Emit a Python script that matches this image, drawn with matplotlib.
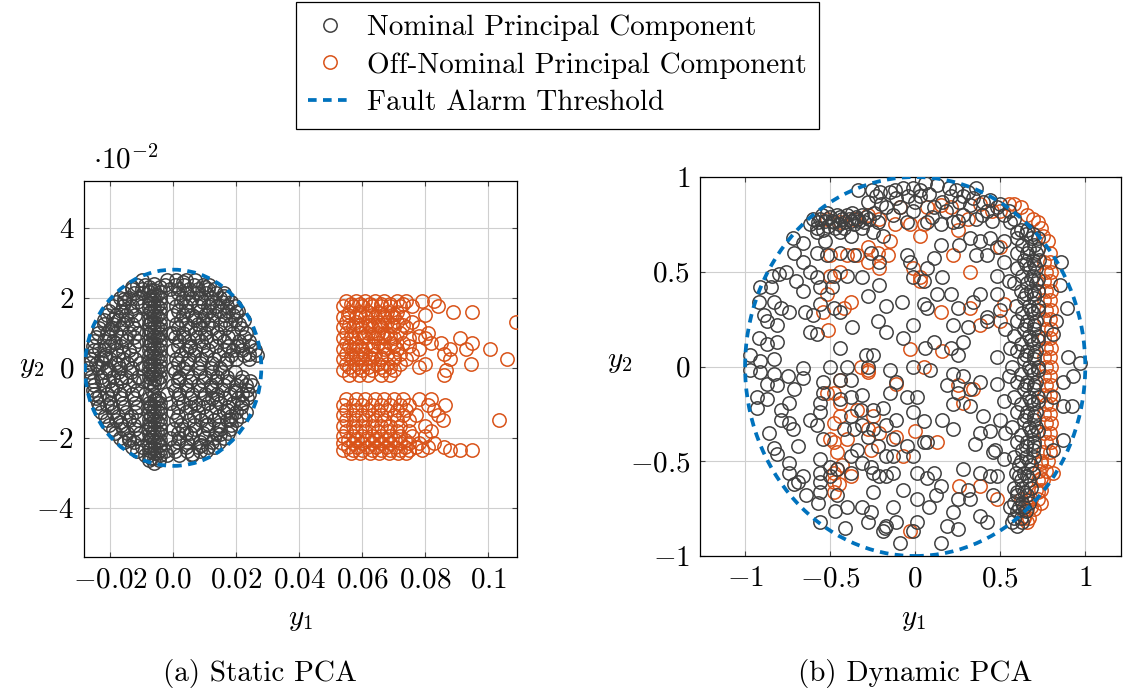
import matplotlib
matplotlib.use("Agg")
import matplotlib.pyplot as plt
from matplotlib.patches import Ellipse
from matplotlib.lines import Line2D

plt.rcParams['font.family'] = ['cmr10', 'DejaVu Serif']
plt.rcParams['mathtext.fontset'] = 'cm'
plt.rcParams['axes.formatter.use_mathtext'] = True
plt.rcParams['axes.unicode_minus'] = False

# ---------------- labels / ticks ----------------
legend_labels = ["Nominal Principal Component", "Off-Nominal Principal Component", "Fault Alarm Threshold"]
captions = ["(a) Static PCA", "(b) Dynamic PCA"]
static_xticks = [-0.02, 0.0, 0.02, 0.04, 0.06, 0.08, 0.1]
static_xticklabels = ["$-0.02$", "$0.0$", "$0.02$", "$0.04$", "$0.06$", "$0.08$", "$0.1$"]
static_yticks = [-4, -2, 0, 2, 4]
static_yticklabels = ["$-4$", "$-2$", "$0$", "$2$", "$4$"]
dyn_ticks = [-1, -0.5, 0, 0.5, 1]
dyn_ticklabels = ["$-1$", "$-0.5$", "$0$", "$0.5$", "$1$"]

# thresholds (static y in units of 1e-2)
static_thr_rx = 0.028
static_thr_ry = 2.8
dyn_thr_r = 1.0

# ---------------- Static PCA, nominal (y in 1e-2) ----------------
static_nom_column = [
    (-0.0078, 2.30), (-0.0078, 2.15), (-0.0078, 2.00), (-0.0078, 1.85), (-0.0078, 1.70), (-0.0078, 1.55),
    (-0.0078, 1.40), (-0.0078, 1.25), (-0.0078, 1.10), (-0.0078, 0.95), (-0.0078, 0.80), (-0.0078, 0.65),
    (-0.0078, 0.50), (-0.0078, 0.35), (-0.0078, 0.20), (-0.0078, 0.05), (-0.0078, -0.10), (-0.0078, -0.25),
    (-0.0078, -0.40), (-0.0076, -0.85), (-0.0078, -1.00), (-0.0078, -1.15), (-0.0078, -1.30), (-0.0078, -1.45),
    (-0.0078, -1.60), (-0.0078, -1.75), (-0.0078, -1.90), (-0.0078, -2.05), (-0.0078, -2.20), (-0.0078, -2.35),
    (-0.0078, -2.50), (-0.0076, -2.62),
    (-0.0060, 2.38), (-0.0060, 2.22), (-0.0060, 2.07), (-0.0060, 1.92), (-0.0060, 1.77), (-0.0060, 1.62),
    (-0.0060, 1.47), (-0.0060, 1.32), (-0.0060, 1.17), (-0.0060, 1.02), (-0.0060, 0.87), (-0.0060, 0.72),
    (-0.0060, 0.57), (-0.0060, 0.42), (-0.0060, 0.27), (-0.0060, 0.12), (-0.0060, -0.03), (-0.0060, -0.18),
    (-0.0060, -0.33), (-0.0060, -0.48), (-0.0060, -0.78), (-0.0060, -0.93), (-0.0060, -1.08), (-0.0060, -1.23),
    (-0.0060, -1.38), (-0.0060, -1.53), (-0.0060, -1.68), (-0.0060, -1.83), (-0.0060, -1.98), (-0.0060, -2.13),
    (-0.0060, -2.28), (-0.0060, -2.43), (-0.0060, -2.58), (-0.0060, -2.72),
    (-0.0042, 2.30), (-0.0042, 2.15), (-0.0042, 2.00), (-0.0042, 1.85), (-0.0042, 1.70), (-0.0042, 1.55),
    (-0.0042, 1.40), (-0.0042, 1.25), (-0.0042, 1.10), (-0.0042, 0.95), (-0.0042, 0.80), (-0.0042, 0.65),
    (-0.0042, 0.50), (-0.0042, 0.35), (-0.0042, 0.20), (-0.0042, 0.05), (-0.0042, -0.10), (-0.0042, -0.25),
    (-0.0044, -0.40), (-0.0044, -0.85), (-0.0042, -1.00), (-0.0042, -1.15), (-0.0042, -1.30), (-0.0042, -1.45),
    (-0.0042, -1.60), (-0.0042, -1.75), (-0.0042, -1.90), (-0.0042, -2.05), (-0.0042, -2.20), (-0.0042, -2.35),
    (-0.0042, -2.50), (-0.0044, -2.64),
    (-0.0069, 2.22), (-0.0069, 1.92), (-0.0069, 1.62), (-0.0069, 1.32), (-0.0069, 1.02), (-0.0069, 0.72),
    (-0.0069, 0.42), (-0.0069, 0.12), (-0.0069, -0.18), (-0.0069, -0.45), (-0.0067, -0.65), (-0.0069, -1.08),
    (-0.0069, -1.38), (-0.0069, -1.68), (-0.0069, -1.98), (-0.0069, -2.28), (-0.0069, -2.58),
    (-0.0051, 2.07), (-0.0051, 1.77), (-0.0051, 1.47), (-0.0051, 1.17), (-0.0051, 0.87), (-0.0051, 0.57),
    (-0.0051, 0.27), (-0.0051, -0.03), (-0.0051, -0.33), (-0.0053, -0.93), (-0.0051, -1.23), (-0.0051, -1.53),
    (-0.0051, -1.83), (-0.0051, -2.13), (-0.0051, -2.43),
]

static_nom_rows_y = [2.5, 2.375, 2.25, 2.125, 2.0, 1.875, 1.75, 1.625, 1.5, 1.375, 1.25, 1.125, 1.0, 0.875,
                     0.75, 0.625, 0.5, 0.375, 0.25, 0.125, 0.0, -0.125, -0.25, -0.375, -0.5, -0.625, -0.75,
                     -0.875, -1.0, -1.125, -1.25, -1.375, -1.5, -1.625, -1.75, -1.875, -2.0, -2.125, -2.25,
                     -2.375, -2.5]
static_nom_rows_x = [
    [-0.010, -0.002, 0.001, 0.004, 0.007],
    [-0.0115, -0.009, -0.0025, 0.0005, 0.0035, 0.0065, 0.0095, 0.0115],
    [-0.013, -0.010, -0.001, 0.002, 0.005, 0.008, 0.011, 0.013],
    [-0.0155, -0.0125, -0.0095, 0.0015, 0.0045, 0.0075, 0.0105, 0.0135, 0.016],
    [-0.017, -0.014, -0.011, 0.0, 0.003, 0.006, 0.009, 0.012, 0.015, 0.017],
    [-0.018, -0.0155, -0.0115, 0.0025, 0.0055, 0.0095, 0.0125, 0.0155, 0.0185],
    [-0.019, -0.016, -0.013, -0.010, 0.001, 0.004, 0.008, 0.011, 0.014, 0.017, 0.0195],
    [-0.0205, -0.0165, -0.0135, 0.0015, 0.0045, 0.0085, 0.0115, 0.0145, 0.0175, 0.0205],
    [-0.021, -0.018, -0.015, -0.012, 0.0, 0.003, 0.006, 0.010, 0.013, 0.016, 0.019],
    [-0.022, -0.0175, -0.0145, -0.011, 0.0025, 0.0065, 0.0095, 0.0125, 0.0165, 0.0195, 0.0225],
    [-0.022, -0.019, -0.016, -0.013, 0.001, 0.004, 0.008, 0.011, 0.015, 0.018, 0.021],
    [-0.0235, -0.0195, -0.0165, -0.0125, 0.0015, 0.0055, 0.0085, 0.0125, 0.0165, 0.0215],
    [-0.024, -0.021, -0.018, -0.014, -0.011, 0.0, 0.003, 0.007, 0.010, 0.014, 0.019, 0.023],
    [-0.0245, -0.0205, -0.0165, -0.0125, 0.0005, 0.0035, 0.0075, 0.0105, 0.0145, 0.0175, 0.0225],
    [-0.025, -0.022, -0.019, -0.015, -0.011, 0.002, 0.005, 0.009, 0.012, 0.016, 0.021, 0.024],
    [-0.0255, -0.0205, -0.0165, -0.0125, 0.0015, 0.0055, 0.0095, 0.0135, 0.0175, 0.0205, 0.0245],
    [-0.025, -0.022, -0.018, -0.014, 0.0, 0.004, 0.007, 0.011, 0.016, 0.019, 0.022, 0.026],
    [-0.0255, -0.0215, -0.0175, -0.0135, 0.0025, 0.0065, 0.0105, 0.0145, 0.0185, 0.0225, 0.0265],
    [-0.026, -0.023, -0.020, -0.016, -0.012, 0.001, 0.005, 0.009, 0.013, 0.017, 0.020, 0.024],
    [-0.0265, -0.0225, -0.0185, -0.0145, -0.0105, 0.0015, 0.0045, 0.0085, 0.0125, 0.0165],
    [-0.0275, -0.024, -0.021, -0.017, -0.013, -0.010, 0.0, 0.003, 0.008, 0.012, 0.015],
    [-0.0265, -0.0215, -0.0175, -0.0135, 0.0005, 0.0045, 0.0085, 0.0125, 0.0155, 0.0195],
    [-0.026, -0.023, -0.019, -0.015, -0.011, 0.002, 0.006, 0.010, 0.014, 0.017, 0.022],
    [-0.0255, -0.0205, -0.0165, -0.0125, -0.0095, 0.0015, 0.0055, 0.0095, 0.0135, 0.0175, 0.0215, 0.0245],
    [-0.025, -0.022, -0.018, -0.014, 0.0, 0.004, 0.008, 0.012, 0.016, 0.020, 0.023, 0.025],
    [-0.0255, -0.0195, -0.0155, -0.0115, 0.0005, 0.0045, 0.0085, 0.0125, 0.0155, 0.0195, 0.0235],
    [-0.025, -0.021, -0.017, -0.013, -0.009, -0.002, 0.002, 0.006, 0.010, 0.014, 0.018, 0.022, 0.024],
    [-0.0245, -0.0205, -0.0165, -0.0125, 0.0015, 0.0055, 0.0095, 0.0125, 0.0165, 0.0205, 0.0235],
    [-0.024, -0.020, -0.016, -0.012, -0.001, 0.003, 0.007, 0.011, 0.015, 0.019, 0.022],
    [-0.0235, -0.0195, -0.0155, -0.0115, 0.0015, 0.0055, 0.0095, 0.0135, 0.0175, 0.0215],
    [-0.023, -0.019, -0.015, -0.012, 0.0, 0.004, 0.008, 0.012, 0.016, 0.020, 0.023],
    [-0.0215, -0.0175, -0.0135, 0.0015, 0.0065, 0.0105, 0.0145, 0.0185, 0.0215],
    [-0.021, -0.018, -0.014, -0.011, 0.001, 0.005, 0.009, 0.013, 0.017, 0.020],
    [-0.0205, -0.0165, -0.0125, 0.0025, 0.0065, 0.0105, 0.0145, 0.0185],
    [-0.019, -0.016, -0.012, 0.0, 0.003, 0.007, 0.011, 0.015, 0.018],
    [-0.0185, -0.0145, -0.0105, 0.0015, 0.0055, 0.0095, 0.0135, 0.0175],
    [-0.017, -0.014, -0.011, -0.001, 0.002, 0.006, 0.010, 0.013, 0.016],
    [-0.0155, -0.0125, 0.0015, 0.0045, 0.0085, 0.0125, 0.0145],
    [-0.013, -0.010, 0.0, 0.004, 0.008, 0.011, 0.013],
    [-0.0115, -0.0025, 0.0005, 0.0045, 0.0085, 0.0105],
    [-0.009, -0.002, 0.002, 0.006],
]
# extra scattered nominal points inside the static disc (denser left and lower-right lobes)
static_nom_extra = [
    (-0.0235, 0.55), (-0.0215, 0.30), (-0.0245, 0.10), (-0.0205, -0.05), (-0.0225, -0.35), (-0.0195, -0.60),
    (-0.0235, -0.80), (-0.0185, 0.70), (-0.0175, 0.10), (-0.0165, -0.30), (-0.0210, -1.05), (-0.0190, 1.40),
    (-0.0155, 1.95), (-0.0130, 2.30), (-0.0170, -1.55), (-0.0140, -2.05), (-0.0200, 1.10), (-0.0160, 0.45),
    (0.0140, -0.90), (0.0170, -1.20), (0.0200, -0.70), (0.0110, -1.60), (0.0150, -1.90), (0.0180, -1.45),
    (0.0090, -2.20), (0.0060, -2.45), (0.0220, -1.00), (0.0120, -0.55), (0.0240, 0.40), (0.0220, 0.65),
    (0.0200, 1.60), (0.0160, 2.05), (0.0100, 2.30), (0.0030, 2.45), (0.0070, 1.45), (0.0050, 0.60),
    (0.0020, -0.30), (0.0080, -1.05), (0.0040, -1.85), (-0.0010, 1.00),
]

# ---------------- Static PCA, off-nominal (y in 1e-2) ----------------
static_off_rows_y = [1.9, 1.82, 1.75, 1.6, 1.52, 1.45, 1.3, 1.22, 1.15, 1.0, 0.92, 0.85, 0.7, 0.62, 0.55, 0.4,
                     0.32, 0.25, 0.1, 0.02, -0.05, -0.2,
                     -0.9, -1.05, -1.2, -1.35, -1.5, -1.65, -1.8, -1.95, -2.05, -2.15, -2.25, -2.35, -2.42]
static_off_rows_x = [
    [0.055, 0.058, 0.061, 0.064, 0.067, 0.071, 0.074, 0.079, 0.083],
    [0.0565, 0.0595, 0.0625, 0.066, 0.069, 0.073],
    [0.054, 0.057, 0.060, 0.063, 0.066, 0.069, 0.072, 0.076, 0.084],
    [0.056, 0.059, 0.062, 0.065, 0.068, 0.071, 0.089, 0.095],
    [0.0555, 0.0595, 0.063, 0.0665, 0.0695, 0.080],
    [0.054, 0.058, 0.061, 0.064, 0.067, 0.070, 0.073],
    [0.055, 0.058, 0.062, 0.065, 0.068, 0.071, 0.076, 0.109],
    [0.056, 0.0595, 0.0625, 0.0655, 0.0695, 0.073],
    [0.054, 0.057, 0.060, 0.063, 0.066, 0.070, 0.074, 0.078],
    [0.055, 0.059, 0.062, 0.065, 0.068, 0.072, 0.081],
    [0.0565, 0.0605, 0.0635, 0.0665, 0.069, 0.078],
    [0.054, 0.057, 0.060, 0.064, 0.067, 0.070, 0.075, 0.080, 0.091],
    [0.055, 0.058, 0.062, 0.065, 0.069, 0.073, 0.082, 0.085, 0.095],
    [0.056, 0.059, 0.0635, 0.0665, 0.070, 0.075],
    [0.054, 0.057, 0.060, 0.063, 0.067, 0.071, 0.078, 0.088, 0.093, 0.1005],
    [0.055, 0.058, 0.061, 0.064, 0.068, 0.072, 0.076, 0.086],
    [0.0565, 0.0595, 0.0625, 0.066, 0.070],
    [0.054, 0.057, 0.060, 0.063, 0.066, 0.070, 0.074, 0.088, 0.106],
    [0.055, 0.058, 0.061, 0.065, 0.068, 0.072, 0.080, 0.0946],
    [0.056, 0.059, 0.062, 0.066, 0.069, 0.078],
    [0.054, 0.057, 0.060, 0.063, 0.067, 0.070, 0.0866],
    [0.056, 0.059, 0.062, 0.066, 0.069, 0.086],
    [0.055, 0.058, 0.061, 0.064, 0.067, 0.070, 0.073, 0.078, 0.082],
    [0.054, 0.057, 0.060, 0.063, 0.066, 0.069, 0.072, 0.075, 0.081, 0.0864],
    [0.055, 0.058, 0.062, 0.065, 0.068, 0.071, 0.074, 0.083],
    [0.054, 0.057, 0.060, 0.063, 0.066, 0.070, 0.073, 0.077, 0.084],
    [0.055, 0.058, 0.061, 0.064, 0.067, 0.071, 0.075, 0.0857, 0.1035],
    [0.054, 0.057, 0.060, 0.063, 0.066, 0.069, 0.072, 0.080],
    [0.055, 0.058, 0.061, 0.065, 0.068, 0.071, 0.075, 0.082],
    [0.054, 0.057, 0.060, 0.063, 0.066, 0.069, 0.072, 0.076, 0.080],
    [0.0555, 0.0585, 0.0615, 0.0645, 0.0675, 0.0705, 0.0735],
    [0.054, 0.057, 0.060, 0.063, 0.066, 0.069, 0.072, 0.075, 0.078, 0.083],
    [0.0555, 0.0585, 0.0615, 0.0645, 0.0675, 0.0705, 0.0735, 0.077, 0.081, 0.086],
    [0.054, 0.057, 0.060, 0.063, 0.066, 0.069, 0.072, 0.075, 0.079, 0.088, 0.091, 0.0949],
    [0.0565, 0.0595, 0.0625, 0.0655, 0.0685, 0.0715, 0.074],
]

# ---------------- Dynamic PCA, nominal ----------------
dyn_nom_points = [
    # dense top-left cluster
    (-0.60, 0.78), (-0.57, 0.76), (-0.55, 0.80), (-0.53, 0.77), (-0.51, 0.74), (-0.50, 0.79), (-0.48, 0.76),
    (-0.46, 0.80), (-0.45, 0.75), (-0.43, 0.78), (-0.41, 0.76), (-0.40, 0.80), (-0.38, 0.77), (-0.36, 0.75),
    (-0.35, 0.79), (-0.33, 0.77), (-0.31, 0.80), (-0.30, 0.76), (-0.58, 0.73), (-0.54, 0.72), (-0.62, 0.75),
    (-0.47, 0.73), (-0.42, 0.73), (-0.37, 0.81), (-0.52, 0.81), (-0.27, 0.78), (-0.24, 0.81), (-0.22, 0.76),
    (-0.56, 0.78), (-0.49, 0.77), (-0.44, 0.79), (-0.39, 0.78), (-0.34, 0.78), (-0.29, 0.79),
    # top arc
    (-0.335, 0.93), (-0.255, 0.93), (-0.206, 0.92), (-0.17, 0.84), (-0.13, 0.80), (-0.09, 0.84), (-0.11, 0.89),
    (-0.07, 0.94), (-0.01, 0.94), (0.03, 0.90), (-0.05, 0.76), (-0.01, 0.82), (0.03, 0.93), (0.11, 0.84),
    (0.13, 0.96), (0.21, 0.90), (0.26, 0.87), (0.31, 0.92), (0.36, 0.94), (0.32, 0.85), (0.40, 0.87),
    (0.42, 0.82), (0.48, 0.84), (0.52, 0.80), (0.56, 0.76), (0.60, 0.71), (0.07, 0.76), (0.15, 0.75),
    (0.22, 0.76), (0.36, 0.78), (0.18, 0.82), (0.28, 0.80), (0.45, 0.77), (0.06, 0.97), (-0.15, 0.92),
    (0.24, 0.93), (0.00, 0.87),
    (-0.20, 0.86), (-0.12, 0.93), (-0.04, 0.90), (0.08, 0.91), (0.16, 0.87), (0.20, 0.94), (0.28, 0.90),
    (0.34, 0.89), (0.44, 0.88), (0.50, 0.86), (0.39, 0.80), (-0.28, 0.87), (-0.23, 0.90), (0.10, 0.79),
    (0.25, 0.77), (0.55, 0.82), (0.58, 0.78),
    (-0.58, 0.71), (-0.53, 0.66), (-0.44, 0.71), (-0.38, 0.69), (-0.31, 0.73), (-0.25, 0.71), (-0.19, 0.69),
    (-0.72, 0.68), (-0.66, 0.65), (-0.71, 0.60), (-0.66, 0.55), (-0.76, 0.50),
    # left outer
    (-0.80, 0.49), (-0.84, 0.48), (-0.91, 0.42), (-0.85, 0.42), (-0.92, 0.34), (-0.83, 0.34), (-0.79, 0.31),
    (-0.74, 0.29), (-0.65, 0.29), (-0.89, 0.27), (-0.87, 0.24), (-0.81, 0.22), (-0.92, 0.15), (-0.87, 0.12),
    (-0.81, 0.13), (-0.97, 0.06), (-0.91, 0.03), (-0.83, 0.04), (-0.97, -0.02), (-0.91, -0.03), (-0.83, -0.04),
    (-0.87, -0.09), (-0.81, -0.10), (-0.93, -0.16), (-0.87, -0.17), (-0.93, -0.22), (-0.79, -0.23),
    (-0.74, -0.19), (-0.71, -0.12), (-0.75, -0.05), (-0.66, -0.06), (-0.66, -0.01), (-0.79, -0.28),
    (-0.74, -0.30), (-0.72, -0.33), (-0.62, -0.28), (-0.56, -0.19), (-0.56, -0.24), (-0.58, -0.31),
    (-0.54, -0.38), (-0.83, -0.43), (-0.81, -0.46), (-0.69, -0.42), (-0.74, -0.51), (-0.74, -0.56),
    (-0.66, -0.58), (-0.71, -0.62), (-0.56, -0.49), (-0.56, -0.56), (-0.56, -0.61), (-0.56, -0.66),
    (-0.50, -0.53), (-0.50, -0.58), (-0.46, -0.54), (-0.47, -0.76), (-0.56, -0.82), (-0.40, -0.74),
    (-0.41, -0.85), (-0.31, -0.74), (-0.26, -0.77), (-0.28, -0.82), (-0.25, -0.66), (-0.13, -0.74),
    (-0.07, -0.65), (-0.17, -0.84), (-0.19, -0.87), (-0.11, -0.82), (-0.09, -0.93), (0.01, -0.82),
    (-0.01, -0.87), (0.01, -0.70), (0.01, -0.56), (-0.25, -0.56), (-0.21, -0.58), (-0.17, -0.58),
    (-0.13, -0.56), (-0.38, -0.56), (-0.31, -0.51), (-0.26, -0.53), (-0.13, -0.47), (-0.17, -0.47),
    (-0.22, -0.42), (-0.38, -0.47), (-0.34, -0.44), (-0.28, -0.37), (-0.25, -0.33), (-0.31, -0.31),
    (-0.36, -0.33), (-0.42, -0.33), (-0.17, -0.31), (-0.13, -0.38), (-0.05, -0.42), (-0.01, -0.47),
    (0.05, -0.40), (-0.11, -0.28), (-0.01, -0.24), (0.05, -0.29), (-0.19, -0.22), (-0.25, -0.23),
    (-0.32, -0.23), (-0.38, -0.26), (-0.38, -0.16), (-0.31, -0.15), (-0.44, -0.17), (-0.44, -0.07),
    (-0.38, -0.07), (-0.54, -0.08), (-0.54, -0.14), (-0.15, -0.14), (-0.11, -0.08), (-0.05, -0.16),
    (0.01, -0.16), (-0.15, -0.02), (-0.01, 0.00), (-0.50, 0.00), (-0.40, 0.00), (-0.28, 0.00),
    (-0.86, -0.35), (-0.69, -0.61), (-0.57, -0.72), (-0.46, -0.68), (-0.18, -0.85), (-0.64, -0.68),
    # interior upper-left
    (-0.58, 0.60), (-0.52, 0.59), (-0.44, 0.60), (-0.36, 0.59), (-0.26, 0.60), (-0.21, 0.55), (-0.58, 0.47),
    (-0.48, 0.48), (-0.40, 0.48), (-0.31, 0.47), (-0.21, 0.43), (-0.56, 0.42), (-0.49, 0.42), (-0.56, 0.33),
    (-0.48, 0.31), (-0.44, 0.29), (-0.60, 0.27), (-0.28, 0.37), (-0.37, 0.21), (-0.22, 0.24), (-0.17, 0.18),
    (-0.08, 0.34), (-0.17, 0.32), (-0.05, 0.59), (-0.03, 0.55), (-0.01, 0.47), (0.05, 0.33), (-0.01, 0.22),
    (-0.58, 0.17), (-0.62, 0.18), (-0.44, 0.10), (-0.29, 0.06), (-0.25, 0.06), (-0.07, 0.15), (0.06, 0.10),
    (-0.66, 0.40), (-0.70, 0.45), (-0.62, 0.50),
    # interior upper-right
    (0.15, 0.64), (0.26, 0.64), (0.32, 0.68), (0.38, 0.66), (0.44, 0.68), (0.48, 0.63), (0.52, 0.66),
    (0.11, 0.57), (0.07, 0.52), (0.36, 0.59), (0.42, 0.59), (0.48, 0.48), (0.16, 0.47), (0.05, 0.45),
    (0.38, 0.38), (0.48, 0.38), (0.13, 0.38), (0.21, 0.38), (0.07, 0.31), (0.25, 0.31), (0.34, 0.34),
    (0.42, 0.26), (0.22, 0.22), (0.31, 0.21), (0.11, 0.13), (0.21, 0.10), (0.28, 0.13), (0.25, 0.06),
    (0.48, 0.05), (0.42, 0.24), (0.52, 0.55), (0.55, 0.45), (0.50, 0.30), (0.53, 0.20), (0.56, 0.10),
    # interior lower-right
    (0.09, -0.02), (0.22, -0.04), (0.28, -0.05), (0.19, -0.10), (0.25, -0.14), (0.32, -0.12), (0.38, -0.08),
    (0.48, -0.09), (0.22, -0.20), (0.32, -0.21), (0.40, -0.26), (0.16, -0.28), (0.22, -0.33), (0.38, -0.35),
    (0.44, -0.34), (0.35, -0.41), (0.46, -0.45), (0.07, -0.40), (0.11, -0.56), (0.07, -0.59), (0.15, -0.63),
    (0.28, -0.54), (0.38, -0.56), (0.44, -0.58), (0.31, -0.65), (0.25, -0.70), (0.32, -0.70), (0.38, -0.79),
    (0.42, -0.82), (0.19, -0.84), (0.25, -0.86), (0.08, -0.74), (0.12, -0.68), (0.22, -0.77), (0.15, -0.93),
    (0.52, -0.18), (0.50, -0.28), (0.47, -0.44), (0.52, -0.49), (0.48, -0.58), (0.46, -0.68), (0.55, -0.05),
    (0.53, -0.35),
    # right outer
    (0.97, 0.02), (0.87, -0.08), (0.92, -0.21), (0.87, -0.21), (0.81, -0.16), (0.87, -0.39), (0.81, -0.44),
    (0.85, 0.43), (0.89, 0.31), (0.83, 0.24), (0.81, 0.17), (0.90, 0.05), (0.86, 0.55), (0.93, -0.05),
]

dyn_band_rows_y = [0.72, 0.70, 0.68, 0.64, 0.62, 0.60, 0.56, 0.54, 0.52, 0.48, 0.46, 0.44, 0.40, 0.38, 0.36,
                   0.32, 0.30, 0.28, 0.24, 0.22, 0.20, 0.16, 0.14, 0.12, 0.08, 0.06, 0.04, 0.0, -0.02, -0.04,
                   -0.08, -0.10, -0.12, -0.16, -0.18, -0.20, -0.24, -0.26, -0.28, -0.32, -0.34, -0.36, -0.40,
                   -0.42, -0.44, -0.48, -0.50, -0.52, -0.56, -0.58, -0.60, -0.64, -0.66, -0.68, -0.72, -0.74,
                   -0.76, -0.80, -0.82, -0.84]
dyn_band_rows_x = [
    [0.62, 0.66], [0.65, 0.69], [0.60, 0.68, 0.72], [0.63, 0.70], [0.67, 0.72], [0.60, 0.66, 0.71],
    [0.64, 0.69, 0.73], [0.65, 0.70], [0.60, 0.67, 0.71], [0.63, 0.69], [0.68, 0.72], [0.58, 0.66, 0.71],
    [0.62, 0.68, 0.72], [0.65, 0.70], [0.64, 0.70], [0.59, 0.67, 0.72], [0.68, 0.72], [0.63, 0.69],
    [0.60, 0.66, 0.71], [0.65, 0.70], [0.64, 0.70], [0.58, 0.67, 0.72], [0.68, 0.72], [0.62, 0.69],
    [0.60, 0.66, 0.71], [0.65, 0.70], [0.64, 0.70], [0.57, 0.67, 0.72], [0.68, 0.72], [0.62, 0.69],
    [0.60, 0.66, 0.71], [0.65, 0.70], [0.64, 0.70], [0.58, 0.67, 0.72], [0.68, 0.72], [0.62, 0.69],
    [0.60, 0.66, 0.71], [0.65, 0.70], [0.64, 0.70], [0.57, 0.67, 0.71], [0.68, 0.72], [0.62, 0.69],
    [0.60, 0.66, 0.70], [0.65, 0.70], [0.63, 0.69], [0.58, 0.65, 0.70], [0.62, 0.67], [0.61, 0.68],
    [0.59, 0.64, 0.69], [0.61, 0.66], [0.62, 0.67], [0.58, 0.63, 0.68], [0.60, 0.64], [0.60, 0.66],
    [0.58, 0.63, 0.67], [0.56, 0.61, 0.64], [0.60, 0.65], [0.58, 0.62], [0.57, 0.63], [0.60],
]

# ---------------- Dynamic PCA, off-nominal ----------------
dyn_off_band_rows_y = [0.86, 0.84, 0.82, 0.80, 0.78, 0.76, 0.73, 0.69, 0.66, 0.60, 0.55, 0.50, 0.45, 0.40,
                       0.35, 0.30, 0.25, 0.20, 0.15, 0.10, 0.05, 0.0, -0.05, -0.10, -0.15, -0.20, -0.25,
                       -0.30, -0.35, -0.40, -0.45, -0.50, -0.55, -0.60, -0.65, -0.70, -0.75, -0.80]
dyn_off_band_rows_x = [
    [0.55, 0.58], [0.62], [0.50], [0.66], [0.69], [0.72], [0.74], [0.75], [0.78], [0.79],
    [0.76, 0.79], [0.77, 0.80], [0.76, 0.79], [0.77, 0.80], [0.76, 0.79], [0.77, 0.80], [0.76, 0.79],
    [0.77, 0.80], [0.76, 0.79], [0.77, 0.80], [0.76, 0.79], [0.77, 0.80], [0.76, 0.79], [0.77, 0.80],
    [0.76, 0.79], [0.77, 0.80], [0.76, 0.79], [0.77, 0.80], [0.76, 0.79], [0.77, 0.80], [0.75, 0.79],
    [0.74, 0.78], [0.73, 0.77], [0.72, 0.75], [0.71, 0.74], [0.68, 0.72], [0.66, 0.70], [0.64, 0.67],
]
dyn_off_points = [
    (-0.50, 0.59), (-0.44, 0.50), (-0.50, 0.48), (-0.52, 0.38), (-0.38, 0.34), (-0.42, 0.31), (-0.54, 0.29),
    (-0.51, 0.19), (-0.40, 0.59), (-0.34, 0.59), (-0.28, 0.55), (-0.21, 0.52), (-0.16, 0.59), (-0.22, 0.60),
    (-0.01, 0.52), (0.03, 0.47), (0.03, 0.69), (0.05, 0.75), (-0.03, 0.75), (-0.15, 0.66), (-0.03, 0.09),
    (-0.28, 0.63), (-0.52, 0.78), (-0.44, 0.76), (-0.28, 0.80), (-0.21, 0.78), (-0.09, 0.84), (-0.44, -0.07),
    (-0.48, -0.14), (-0.44, -0.19), (-0.48, -0.30), (-0.50, -0.38), (-0.40, -0.38), (-0.34, -0.23),
    (-0.28, -0.33), (-0.25, -0.26), (-0.21, -0.35), (-0.11, -0.37), (0.00, -0.34), (-0.07, -0.47),
    (-0.26, -0.44), (-0.48, -0.56), (-0.48, -0.61), (-0.48, -0.66), (-0.38, -0.58), (-0.32, 0.00),
    (-0.28, -0.03), (-0.11, -0.09), (0.05, 0.00), (-0.03, -0.87), (0.32, 0.50), (0.22, 0.59), (0.15, 0.29),
    (0.32, 0.31), (0.52, 0.33), (0.38, 0.22), (0.50, 0.24), (0.03, 0.45), (0.21, 0.84), (0.31, 0.78),
    (0.15, 0.85), (0.07, 0.84), (0.16, 0.08), (0.50, 0.63), (0.48, -0.70), (0.38, -0.63), (0.26, -0.63),
    (0.34, -0.12), (0.28, -0.19), (0.13, -0.40), (0.25, -0.10), (-0.46, -0.45), (-0.45, -0.62),
    (-0.43, -0.52), (-0.36, 0.78), (-0.12, 0.75), (0.38, 0.86), (0.45, 0.82), (0.25, 0.72),
    (-0.52, -0.14), (-0.44, -0.26), (-0.48, -0.40), (-0.46, -0.54), (-0.28, -0.02), (0.62, -0.70),
    (0.64, -0.79), (0.66, -0.82), (0.74, -0.72), (0.74, -0.51), (0.81, -0.56), (0.74, -0.59),
    (0.72, -0.66), (0.68, -0.74),
]

# ---------------- styling ----------------
GRAY = "#404040"
ORANGE = "#D95319"
BLUE = "#0072BD"
MS = 9.6
MEW = 1.1
FS = 21
THR_LW = 2.7
THR_DASH = (0, (2.3, 1.7))


def flatten_rows(rows_y, rows_x):
    xs, ys = [], []
    for y, row in zip(rows_y, rows_x):
        for x in row:
            xs.append(x)
            ys.append(y)
    return xs, ys


def style_axes(ax):
    ax.grid(True, color="#cfcfcf", linewidth=0.8)
    ax.set_axisbelow(True)
    ax.tick_params(direction="in", length=3.5, width=0.8, top=True, right=True,
                   labelsize=FS, color="#444444", pad=7)
    for s in ax.spines.values():
        s.set_linewidth(0.9)


fig = plt.figure(figsize=(11.31, 6.92), dpi=100)
ax1 = fig.add_axes([84 / 1131, 1 - 557 / 692, (517 - 84) / 1131, (557 - 181) / 692])
ax2 = fig.add_axes([700 / 1131, 1 - 556 / 692, (1121 - 700) / 1131, (556 - 177) / 692])

# static panel
nx, ny = flatten_rows(static_nom_rows_y, static_nom_rows_x)
nx += [p[0] for p in static_nom_column + static_nom_extra]
ny += [p[1] for p in static_nom_column + static_nom_extra]
ax1.plot(nx, ny, 'o', ms=MS, mfc='none', mec=GRAY, mew=MEW, zorder=3)
ox, oy = flatten_rows(static_off_rows_y, static_off_rows_x)
ax1.plot(ox, oy, 'o', ms=MS, mfc='none', mec=ORANGE, mew=MEW, zorder=3)
ax1.add_patch(Ellipse((0, 0), 2 * static_thr_rx, 2 * static_thr_ry, fill=False, edgecolor=BLUE,
                      linewidth=THR_LW, linestyle=THR_DASH, zorder=5))
ax1.set_xlim(-0.0283, 0.1092)
ax1.set_ylim(-5.4, 5.33)
ax1.set_xticks(static_xticks, static_xticklabels)
ax1.set_yticks(static_yticks, static_yticklabels)
style_axes(ax1)

# dynamic panel
ofx, ofy = flatten_rows(dyn_off_band_rows_y, dyn_off_band_rows_x)
ofx += [p[0] for p in dyn_off_points]
ofy += [p[1] for p in dyn_off_points]
ax2.plot(ofx, ofy, 'o', ms=MS, mfc='none', mec=ORANGE, mew=MEW, zorder=3)
bx, by = flatten_rows(dyn_band_rows_y, dyn_band_rows_x)
bx += [p[0] for p in dyn_nom_points]
by += [p[1] for p in dyn_nom_points]
ax2.plot(bx, by, 'o', ms=MS, mfc='none', mec=GRAY, mew=MEW, zorder=4)
ax2.add_patch(Ellipse((0, 0), 2 * dyn_thr_r, 2 * dyn_thr_r, fill=False, edgecolor=BLUE,
                      linewidth=THR_LW, linestyle=THR_DASH, zorder=5))
ax2.set_xlim(-1.265, 1.21)
ax2.set_ylim(-1, 1)
ax2.set_xticks(dyn_ticks, dyn_ticklabels)
ax2.set_yticks(dyn_ticks, dyn_ticklabels)
style_axes(ax2)

# texts
fig.text(93 / 1131, 1 - 160 / 692, r"$\cdot 10^{-2}$", fontsize=FS, va="center", ha="left")
fig.text(300 / 1131, 1 - 620 / 692, r"$y_1$", fontsize=FS, ha="center", va="center")
fig.text(913 / 1131, 1 - 620 / 692, r"$y_1$", fontsize=FS, ha="center", va="center")
fig.text(32 / 1131, 1 - 367 / 692, r"$y_2$", fontsize=FS, ha="center", va="center")
fig.text(620 / 1131, 1 - 362 / 692, r"$y_2$", fontsize=FS, ha="center", va="center")
fig.text(260 / 1131, 1 - 673 / 692, captions[0], fontsize=FS, ha="center", va="center")
fig.text(915 / 1131, 1 - 673 / 692, captions[1], fontsize=FS, ha="center", va="center")

handles = [
    Line2D([], [], linestyle='none', marker='o', ms=MS, mfc='none', mec=GRAY, mew=MEW),
    Line2D([], [], linestyle='none', marker='o', ms=MS, mfc='none', mec=ORANGE, mew=MEW),
    Line2D([], [], color=BLUE, linewidth=THR_LW, linestyle=THR_DASH),
]
leg = fig.legend(handles, legend_labels, loc="upper center", bbox_to_anchor=(557.5 / 1131, 0.997),
                 fontsize=FS, frameon=True, fancybox=False, edgecolor="black", framealpha=1,
                 handlelength=1.5, handletextpad=0.5, labelspacing=0.39, borderpad=0.42,
                 borderaxespad=0.0)
leg.get_frame().set_linewidth(0.9)

fig.savefig("out.png", dpi=100)
